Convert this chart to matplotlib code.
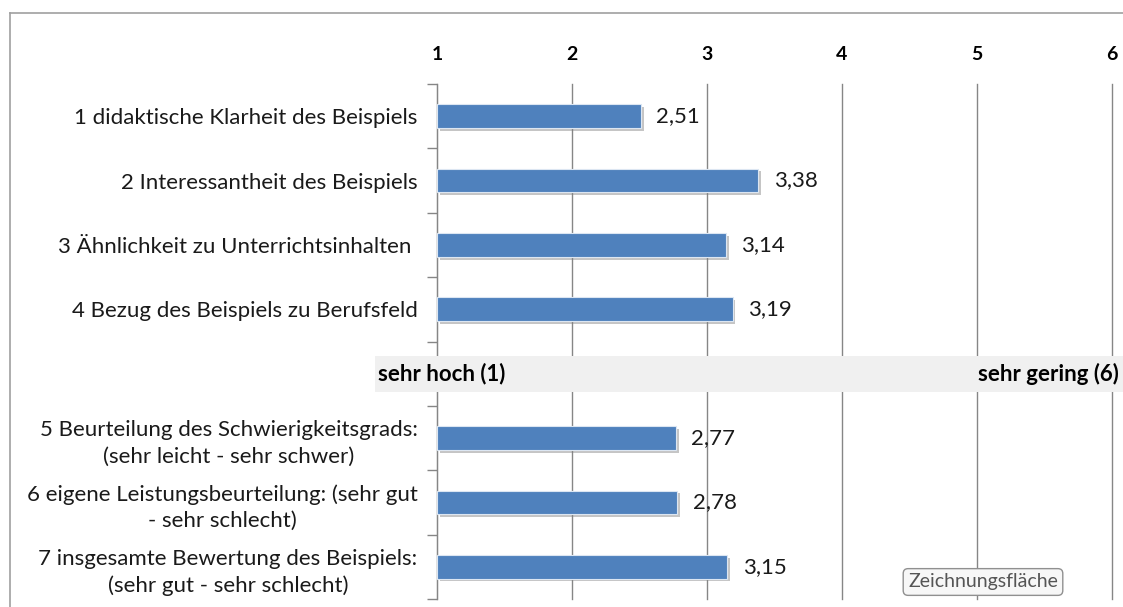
import matplotlib.pyplot as plt
import matplotlib.patheffects as pe
from matplotlib.transforms import blended_transform_factory
from matplotlib.patches import Rectangle

# data
labels = ['1 didaktische Klarheit des Beispiels',
          '2 Interessantheit des Beispiels',
          '3 Ähnlichkeit zu Unterrichtsinhalten ',
          '4 Bezug des Beispiels zu Berufsfeld',
          '',
          '5 Beurteilung des Schwierigkeitsgrads:\n(sehr leicht - sehr schwer)',
          '6 eigene Leistungsbeurteilung: (sehr gut\n- sehr schlecht)',
          '7 insgesamte Bewertung des Beispiels:\n(sehr gut - sehr schlecht)']
values = [2.51, 3.38, 3.14, 3.19, None, 2.77, 2.78, 3.15]
xticks = [1, 2, 3, 4, 5, 6]

W, H = 1123, 607
FS = 16
plt.rcParams['font.family'] = ['Lato', 'DejaVu Sans']
fig = plt.figure(figsize=(W / 100, H / 100), dpi=100)
ax = fig.add_axes([437 / W, 1 - 599 / H, (1112 - 437) / W, (599 - 84) / H])

pos = [i for i, v in enumerate(values) if v is not None]
vals = [v for v in values if v is not None]
bars = ax.barh(pos, [v - 1 for v in vals], left=1, height=0.37, color='#4f81bd',
               edgecolor='#dce6f2', linewidth=0.8, zorder=3)
for b in bars:
    b.set_path_effects([pe.SimplePatchShadow(offset=(2, -2), shadow_rgbFace='#808080', alpha=0.45),
                        pe.Normal()])
ax.bar_label(bars, labels=[f'{v:.2f}'.replace('.', ',') for v in vals], padding=11,
             fontsize=FS, color='#1a1a1a')

ax.set_xlim(1, 6)
ax.set_ylim(len(labels) - 0.5, -0.5)
ax.set_xticks(xticks)
ax.xaxis.tick_top()
ax.tick_params(axis='x', length=0, pad=15, labelsize=14)
for t in ax.get_xticklabels():
    t.set_fontweight('bold')
ax.set_yticks(range(len(labels)))
ax.set_yticklabels(labels, fontsize=FS, color='#1a1a1a')
for t in ax.get_yticklabels():
    t.set_multialignment('center')
    t.set_linespacing(1.4)
ax.tick_params(axis='y', length=0, pad=14)
ax.set_yticks([i - 0.5 for i in range(len(labels) + 1)], minor=True)
ax.tick_params(axis='y', which='minor', length=7, color='#868686', width=1)
ax.grid(axis='x', color='#868686', linewidth=1, zorder=0)
for gl in ax.get_xgridlines():
    gl.set_clip_on(False)
for s in ['top', 'right', 'bottom']:
    ax.spines[s].set_visible(False)
ax.spines['left'].set_color('#868686')

# separator band
tr = blended_transform_factory(fig.transFigure, ax.transData)
ax.add_patch(Rectangle((375 / W, 3.72), 1 - 375 / W, 0.56, transform=tr, clip_on=False,
                       facecolor='#f0f0f0', edgecolor='none', zorder=4))
ax.text(378 / W, 4, 'sehr hoch (1)', transform=tr, fontsize=FS, fontweight='bold',
        va='center', ha='left', zorder=5)
ax.text(1119 / W, 4, 'sehr gering (6)', transform=tr, fontsize=FS, fontweight='bold',
        va='center', ha='right', zorder=5, clip_on=False)

# outer frame
fig.add_artist(plt.Line2D([10 / W, 1], [1 - 13 / H, 1 - 13 / H], color='#a0a0a0', lw=1.2))
fig.add_artist(plt.Line2D([10 / W, 10 / W], [0, 1 - 13 / H], color='#a0a0a0', lw=1.2))

# tooltip
fig.text(983 / W, 1 - 582 / H, 'Zeichnungsfläche', fontsize=14, color='#555555',
         ha='center', va='center', zorder=10,
         bbox=dict(boxstyle='round,pad=0.25', facecolor='#f7f7f7', edgecolor='#909090'))

fig.savefig('out.png', dpi=100)
